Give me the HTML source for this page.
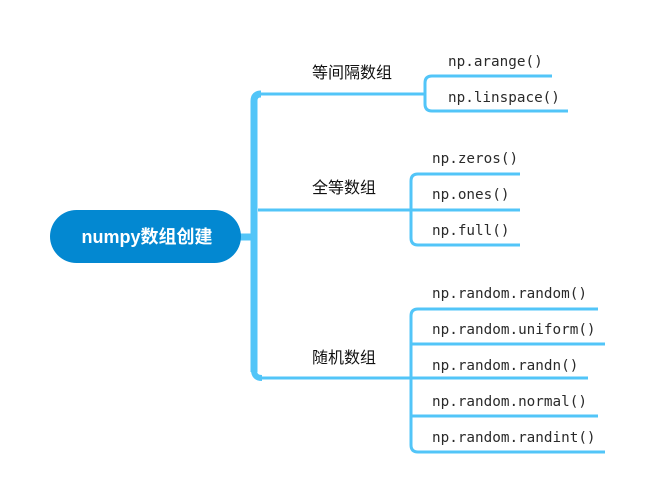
<!DOCTYPE html>
<html><head><meta charset="utf-8"><style>
html,body{margin:0;padding:0;background:#fff;}
svg{display:block}
.m{font-family:"DejaVu Sans Mono","Liberation Mono",monospace;font-size:14.3px;fill:#2a2a2a;}
.c{font-family:"Liberation Sans","Noto Sans CJK SC",sans-serif;font-size:16px;fill:#111;}
</style></head><body>
<svg width="655" height="503" viewBox="0 0 655 503" xmlns="http://www.w3.org/2000/svg">
<g fill="none" stroke="#52c5f8" stroke-linecap="butt">
<path d="M240 237 H256" stroke-width="7"/>
<path d="M254 372 V101 Q254 94 261 94" stroke-width="7"/>
<path d="M254 370 Q254 378 262 378" stroke-width="6"/>
<path d="M258 94 H424" stroke-width="3"/>
<path d="M258 210 H410" stroke-width="3"/>
<path d="M258 378 H410" stroke-width="3"/>
<path d="M552 76 H432 Q425 76 425 83 V104 Q425 111 432 111 H568" stroke-width="3"/>
<path d="M520 174 H418 Q411 174 411 181 V238 Q411 245 418 245 H520" stroke-width="3"/>
<path d="M411 210 H520" stroke-width="3"/>
<path d="M598 309 H418 Q411 309 411 316 V445 Q411 452 418 452 H605" stroke-width="3"/>
<path d="M411 344 H605 M411 378 H588 M411 416 H598" stroke-width="3"/>
</g>
<rect x="50" y="210" width="191" height="53" rx="26.5" fill="#0388d1"/>
<text x="147" y="243" text-anchor="middle" font-family="Liberation Sans,'Noto Sans CJK SC',sans-serif" font-size="18" font-weight="bold" fill="#fff">numpy数组创建</text>
<text class="c" x="312" y="78">等间隔数组</text>
<text class="c" x="312" y="193">全等数组</text>
<text class="c" x="312" y="363">随机数组</text>
<text class="m" x="448" y="66">np.arange()</text>
<text class="m" x="448" y="102">np.linspace()</text>
<text class="m" x="432" y="163">np.zeros()</text>
<text class="m" x="432" y="199">np.ones()</text>
<text class="m" x="432" y="235">np.full()</text>
<text class="m" x="432" y="298">np.random.random()</text>
<text class="m" x="432" y="334">np.random.uniform()</text>
<text class="m" x="432" y="370">np.random.randn()</text>
<text class="m" x="432" y="406">np.random.normal()</text>
<text class="m" x="432" y="442">np.random.randint()</text>
</svg>
</body></html>
